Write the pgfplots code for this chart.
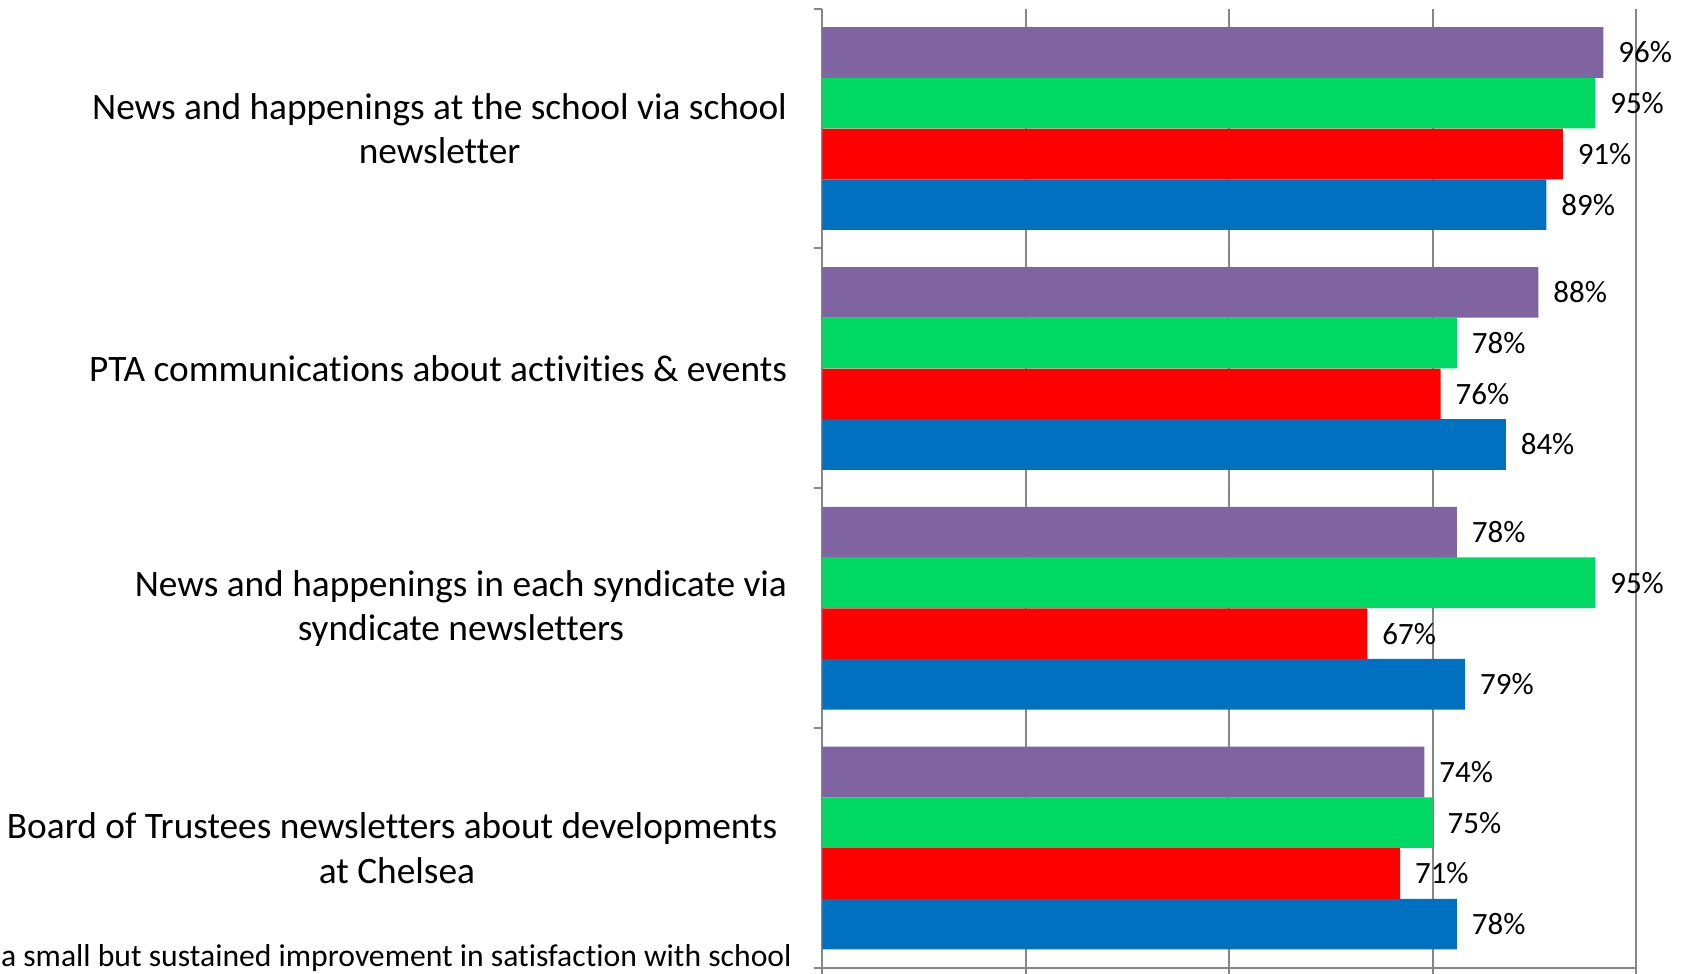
\documentclass[border=0pt]{standalone}
\usepackage{pgfplots}
\pgfplotsset{compat=1.18}
\usepackage{fontspec}
\setmainfont[Ligatures=NoCommon]{Carlito}
\definecolor{cpurple}{HTML}{8064A2}
\definecolor{cgreen}{HTML}{00D964}
\definecolor{cred}{HTML}{FF0000}
\definecolor{cblue}{HTML}{0070C0}
\definecolor{cgrid}{HTML}{868686}
\begin{document}
\begin{tikzpicture}
\useasboundingbox (0,0) rectangle (507pt,292.2pt);
\clip (0,0) rectangle (507pt,292.2pt);
\begin{axis}[
  at={(246.7pt,1.8pt)}, anchor=south west,
  scale only axis, width=244.1pt, height=287.8pt,
  xbar, bar width=0.2112,
  xmin=0, xmax=100, ymin=-0.5, ymax=3.5,
  axis x line*=bottom, axis y line*=left,
  axis line style={cgrid, line width=0.6pt, -},
  xtick={0,25,50,75,100}, xticklabels={},
  xmajorgrids, grid style={cgrid, line width=0.6pt},
  tick align=outside, major tick length=2.6pt,
  tick style={cgrid, line width=0.6pt},
  ytick={0,1,2,3},
  yticklabels={{Board of Trustees newsletters about developments\hspace*{2.9pt}\\at Chelsea},
               {News and happenings in each syndicate via\\syndicate newsletters},
               {PTA communications about activities \& events},
               {News and happenings at the school via school\\newsletter}},
  ytick style={draw=none},
  extra y ticks={-0.5,0.5,1.5,2.5,3.5}, extra y tick labels={},
  extra y tick style={ytick style={draw=cgrid}},
  yticklabel style={align=center, font=\fontsize{11.2pt}{13.3pt}\selectfont, inner sep=0pt, xshift=-7.8pt},
  point meta=x,
  /pgf/number format/assume math mode=true,
  nodes near coords={\pgfmathprintnumber{\pgfplotspointmeta}\%},
  nodes near coords style={font=\fontsize{9.3pt}{10pt}\selectfont, inner sep=0pt, xshift=4.3pt, anchor=west},
]
\addplot[fill=cblue, draw=none, bar shift=-0.317] coordinates {(78,0) (79,1) (84,2) (89,3)};
\addplot[fill=cred, draw=none, bar shift=-0.106] coordinates {(71,0) (67,1) (76,2) (91,3)};
\addplot[fill=cgreen, draw=none, bar shift=0.106] coordinates {(75,0) (95,1) (78,2) (95,3)};
\addplot[fill=cpurple, draw=none, bar shift=0.317] coordinates {(74,0) (78,1) (88,2) (96,3)};
\end{axis}
\node[anchor=base east, inner sep=0pt, font=\fontsize{9.5pt}{12pt}\selectfont] at (237.7pt,2.3pt) {a small but sustained improvement in satisfaction with school};
\end{tikzpicture}
\end{document}
